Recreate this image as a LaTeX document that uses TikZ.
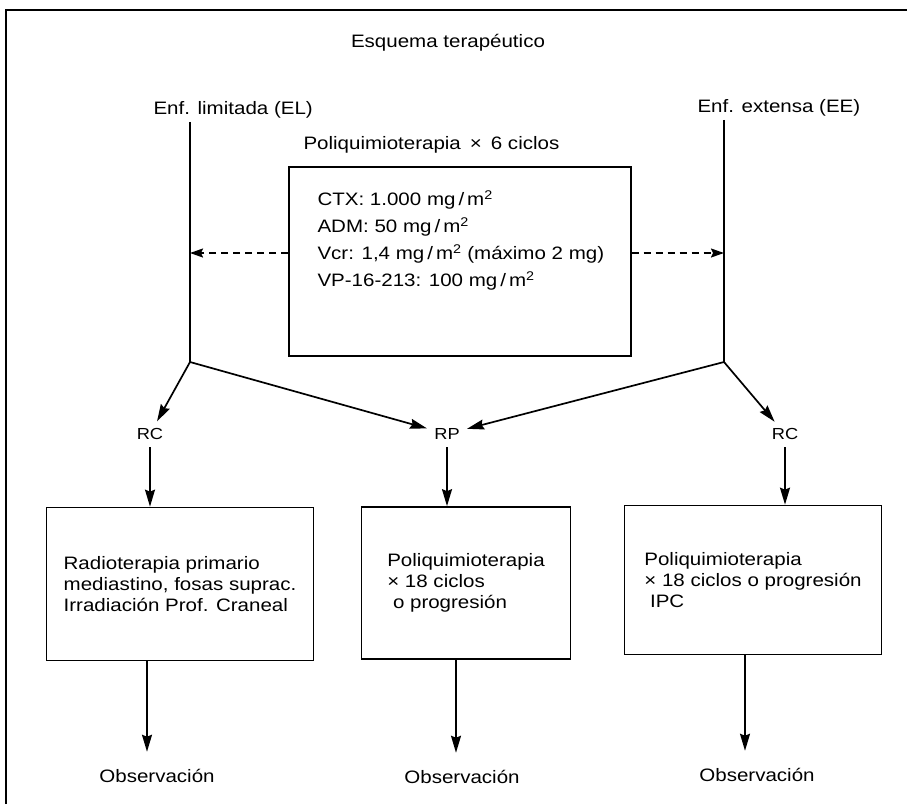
\documentclass[tikz,border=0pt]{standalone}
\usepackage{fontspec}
\setmainfont{Liberation Sans}[FakeStretch=1.14]
\usetikzlibrary{arrows.meta,positioning}

\tikzset{
  txt/.style={font=\fontsize{18}{20}\selectfont},
  smalltxt/.style={font=\fontsize{16}{18}\selectfont},
  boxnode/.style={draw, line width=1.7pt, rectangle, align=left,
    font=\fontsize{18}{21}\selectfont},
  arr/.style={line width=1.7pt, -{Stealth[length=17pt,width=10pt,inset=2pt]}},
  dasharr/.style={line width=1.7pt, dash pattern=on 7pt off 5pt,
    -{Stealth[length=13pt,width=9pt,inset=2pt]}},
  frameline/.style={line width=1.7pt}
}

\begin{document}
\begin{tikzpicture}[x=1pt,y=-1pt]
  \useasboundingbox (0,0) rectangle (907,804);
  \draw[frameline] (6,804) -- (6,10) -- (907,10);

  % titulo y ramas
  \node[txt] (title) at (448,43) {Esquema terap\'eutico};
  \node[txt, anchor=west] (el) at (150,110) {Enf. limitada (EL)};
  \node[txt, anchor=west] (ee) at (694,108) {Enf. extensa (EE)};
  \coordinate (elend) at (190,362);
  \coordinate (eeend) at (724,362);
  \draw[frameline] (el.south -| elend) -- (elend);
  \draw[frameline] (ee.south -| eeend) -- (eeend);

  % induccion
  \node[txt, anchor=west] (poli) at (300,145) {Poliquimioterapia\enspace×\enspace6 ciclos};
  \node[boxnode, anchor=north west, minimum width=342pt, minimum height=189pt] (dosis) at (288,166) {};
  \node[anchor=north west, align=left, font=\fontsize{18}{27}\selectfont]
    (dosistxt) at ([xshift=26pt,yshift=-21pt]dosis.north west)
    {CTX: 1.000 mg\,/\,m\textsuperscript{2}\\
     ADM: 50 mg\,/\,m\textsuperscript{2}\\
     Vcr: 1,4 mg\,/\,m\textsuperscript{2} (máximo 2 mg)\\
     VP-16-213: 100 mg\,/\,m\textsuperscript{2}};
  \draw[dasharr] (dosis.west |- 0,253) -- (elend |- 0,253);
  \draw[dasharr] (dosis.east |- 0,253) -- (eeend |- 0,253);

  % respuesta
  \node[smalltxt] (rcl) at (150,434) {RC};
  \node[smalltxt] (rp) at (447,434) {RP};
  \node[smalltxt] (rcr) at (785,434) {RC};
  \draw[arr, shorten >=4pt] (elend) -- (rcl);
  \draw[arr, shorten >=4pt] (elend) -- (rp);
  \draw[arr, shorten >=4pt] (eeend) -- (rp);
  \draw[arr, shorten >=4pt] (eeend) -- (rcr);

  % tratamiento
  \node[boxnode, minimum width=267pt, minimum height=153pt] (radio) at (180,584)
    {Radioterapia primario\\mediastino, fosas suprac.\\Irradiación Prof. Craneal};
  \node[boxnode, minimum width=209pt, minimum height=152pt] (pqrp) at (466,583)
    {Poliquimioterapia\\× 18 ciclos\\\ o progresión};
  \node[boxnode, minimum width=257pt, minimum height=149pt] (pqrc) at (753,580)
    {Poliquimioterapia\\× 18 ciclos o progresión\\\ IPC};
  \draw[arr, shorten <=4pt] (rcl) -- (rcl |- radio.north);
  \draw[arr, shorten <=4pt] (rp) -- (rp |- pqrp.north);
  \draw[arr, shorten <=4pt] (rcr) -- (rcr |- pqrc.north);

  % observacion
  \node[txt] (obs1) at (157,776) {Observación};
  \node[txt] (obs2) at (462,777) {Observación};
  \node[txt] (obs3) at (757,775) {Observación};
  \draw[arr, shorten >=14pt] ([xshift=-33pt]radio.south) -- ([xshift=-33pt]radio.south |- obs1.north);
  \draw[arr, shorten >=14pt] ([xshift=-10pt]pqrp.south) -- ([xshift=-10pt]pqrp.south |- obs2.north);
  \draw[arr, shorten >=14pt] ([xshift=-8pt]pqrc.south) -- ([xshift=-8pt]pqrc.south |- obs3.north);
\end{tikzpicture}
\end{document}
